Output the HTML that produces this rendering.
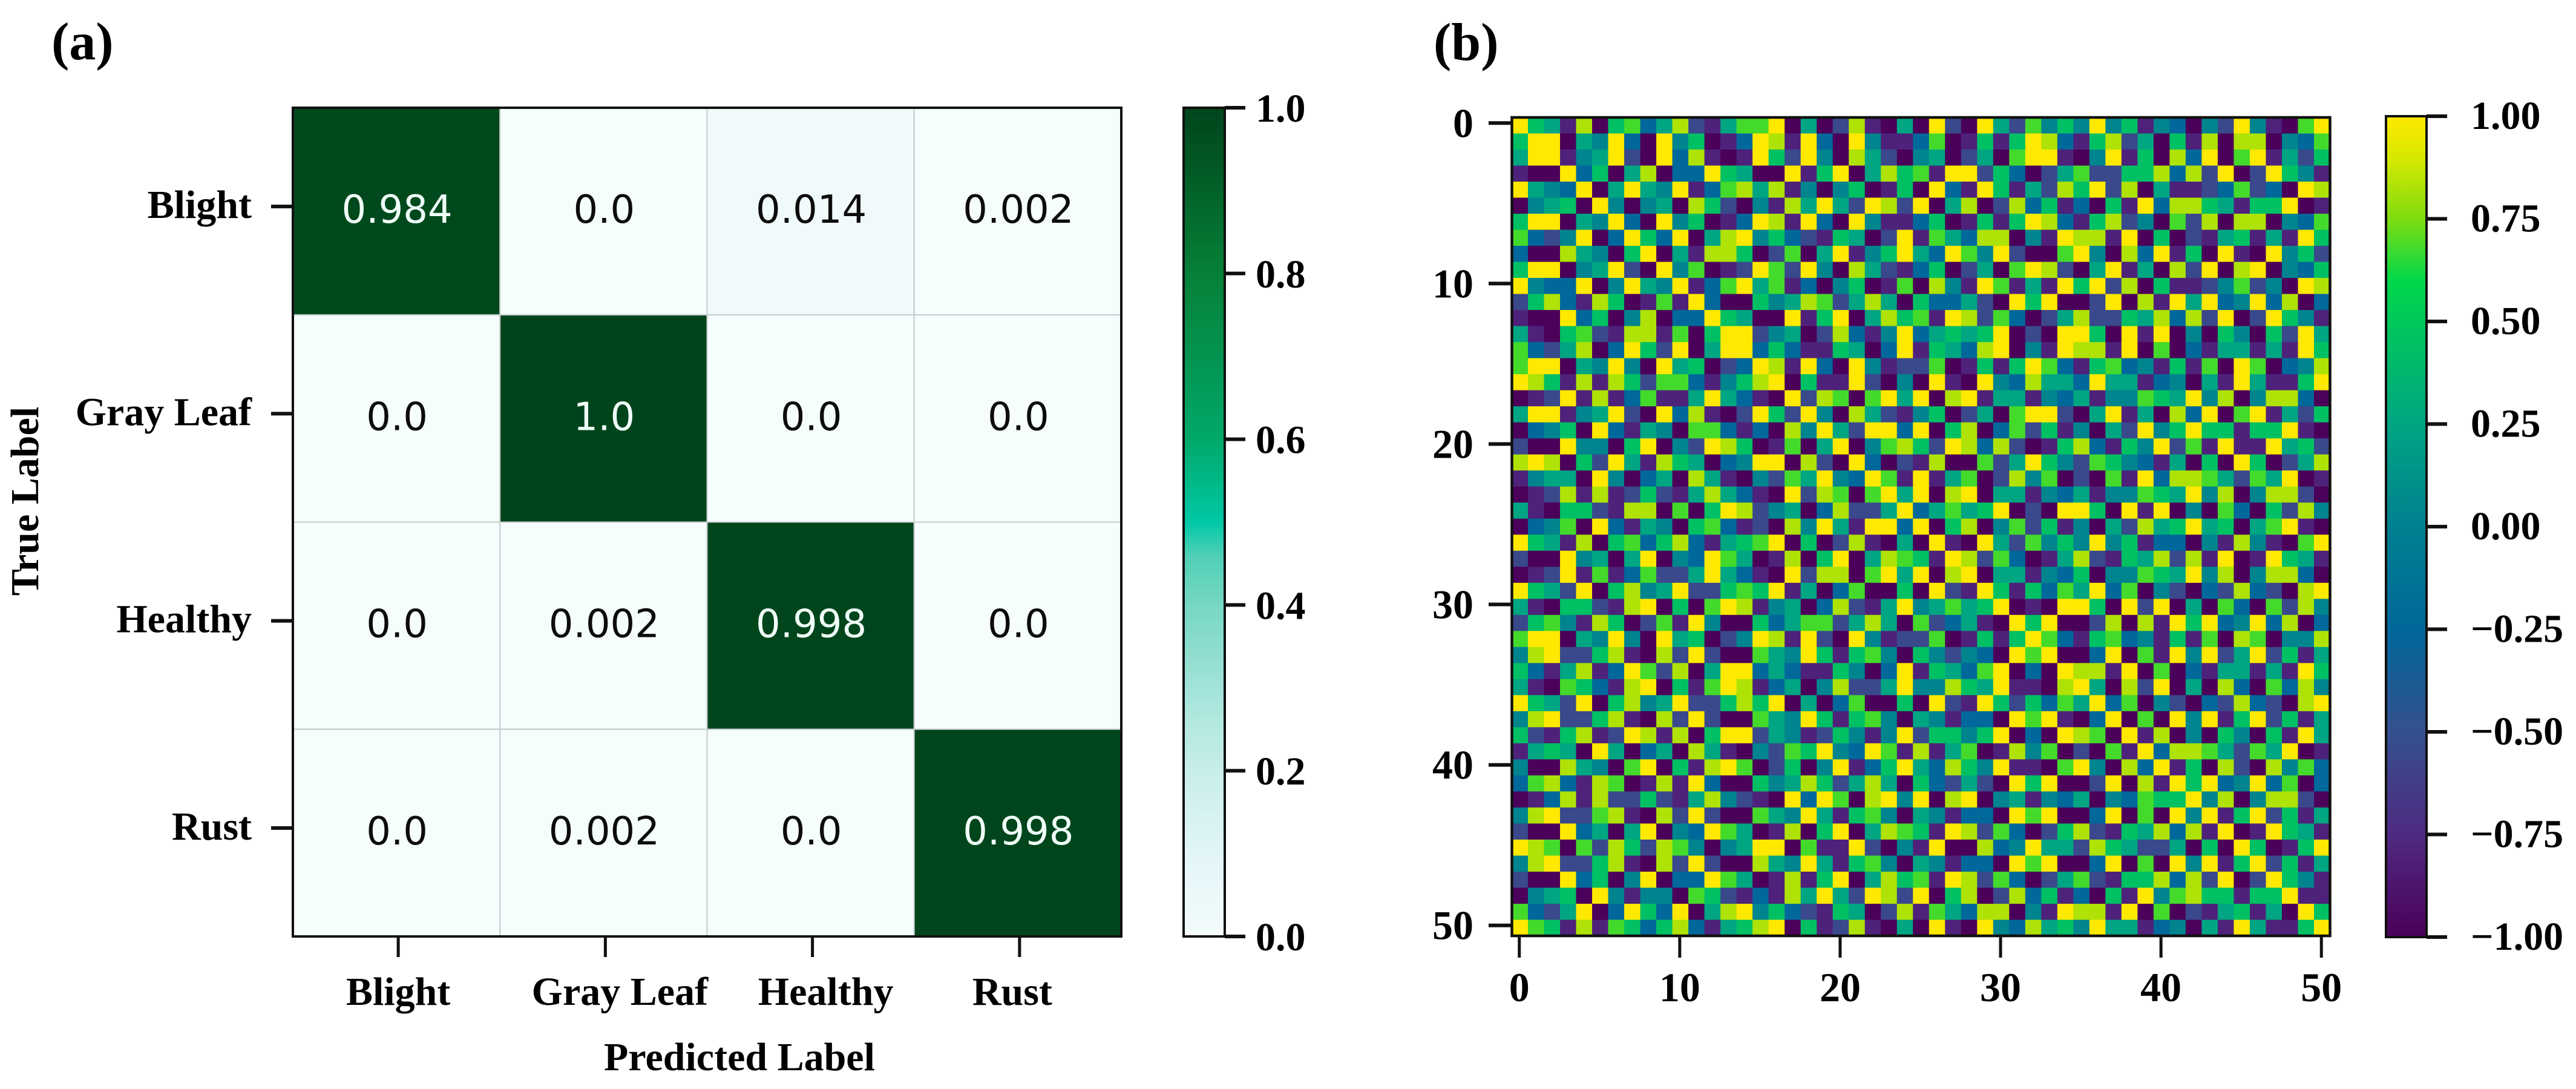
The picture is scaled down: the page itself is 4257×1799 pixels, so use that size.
<!DOCTYPE html>
<html lang="en">
<head>
<meta charset="utf-8">
<title>Confusion matrix and correlation heatmap</title>
<style>
html,body{margin:0;padding:0;background:#fff;}
svg{display:block;}
.serif{font-family:"Liberation Serif",serif;font-weight:bold;fill:#000;}
.sans{font-family:"DejaVu Sans",sans-serif;}
</style>
</head>
<body>
<svg id="figure" xmlns="http://www.w3.org/2000/svg" width="4257" height="1799" viewBox="0 0 4257 1799">
<defs id="defs"></defs>
<rect x="0" y="0" width="4257" height="1799" fill="#fff"/>
<text class="serif" x="85" y="98" font-size="88">(a)</text>
<text class="serif" x="2369" y="99" font-size="88">(b)</text>
<text class="serif" x="1222" y="1768" font-size="66" text-anchor="middle">Predicted Label</text>
<text class="serif" transform="translate(63,828) rotate(-90)" font-size="66" text-anchor="middle">True Label</text>
<g id="panelA"></g>
<g id="panelB"></g>
</svg>
<script>
const classLabels = ["Blight","Gray Leaf","Healthy","Rust"];
const confusionValues = [
[0.984,0.0,0.014,0.002],
[0.0,1.0,0.0,0.0],
[0.0,0.002,0.998,0.0],
[0.0,0.002,0.0,0.998]
];
const confusionPrinted = [
["0.984","0.0","0.014","0.002"],
["0.0","1.0","0.0","0.0"],
["0.0","0.002","0.998","0.0"],
["0.0","0.002","0.0","0.998"]
];
const cbarATicks = [0,0.2,0.4,0.6,0.8,1.0];
const cbarATickLabels = ["0.0","0.2","0.4","0.6","0.8","1.0"];
const heatTicks = [0,10,20,30,40,50];
const heatTickLabels = ["0","10","20","30","40","50"];
const cbarBTicks = [-1,-0.75,-0.5,-0.25,0,0.25,0.5,0.75,1];
const cbarBTickLabels = ["\u22121.00","\u22120.75","\u22120.50","\u22120.25","0.00","0.25","0.50","0.75","1.00"];
const levelValue = [-1,-0.8,-0.55,-0.25,0.03,0.25,0.44,0.68,0.83,1];
const cellLevels = [
[9,6,5,1,8,0,6,7,3,5,8,2,1,5,7,7,9,0,5,0,2,8,1,0,5,0,9,2,0,9,5,2,7,4,6,4,9,4,6,1,4,3,0,4,2,9,4,1,0,7,9],
[6,9,9,0,5,4,9,3,0,9,4,6,0,1,3,9,8,1,9,3,0,9,4,1,1,3,7,0,1,6,1,6,9,8,3,1,6,8,2,5,0,6,1,8,0,8,8,0,4,3,7],
[5,9,9,1,4,5,9,2,0,9,3,8,1,0,1,9,6,2,9,4,0,8,5,2,0,4,5,0,2,5,0,7,9,9,1,0,4,9,1,6,0,8,3,9,0,7,9,1,5,2,6],
[1,0,0,9,3,6,0,5,8,0,3,3,9,6,5,0,0,9,1,6,9,0,5,8,6,7,1,9,9,2,6,3,0,2,5,7,2,2,6,6,8,3,8,2,9,0,2,9,6,4,1],
[9,5,4,3,9,0,5,9,5,4,9,1,3,7,8,5,8,1,4,0,4,6,0,1,6,0,9,3,1,9,6,1,5,2,8,6,9,2,8,0,5,1,1,2,3,7,2,3,0,9,8],
[0,4,5,6,0,9,4,0,4,5,0,8,6,2,0,4,1,8,5,9,5,2,9,8,2,9,0,5,8,0,2,8,3,6,1,3,0,6,1,9,3,8,8,6,5,1,6,6,9,0,1],
[6,9,9,0,5,4,9,3,0,9,4,6,0,1,3,9,8,1,9,3,0,9,4,1,1,3,6,0,1,6,1,6,9,8,3,1,6,8,2,4,0,7,2,8,0,8,8,0,4,3,7],
[7,3,2,4,9,0,3,9,6,3,9,0,5,8,9,4,6,3,2,1,6,5,0,2,9,1,7,5,3,8,8,0,4,1,9,8,8,1,9,0,6,0,2,1,5,6,1,5,1,9,6],
[3,0,0,8,5,4,0,6,9,0,5,1,8,8,6,0,2,7,0,5,9,1,4,6,9,5,3,9,7,4,9,2,0,0,7,9,4,0,8,3,9,1,6,0,9,1,0,9,4,6,2],
[6,9,9,0,4,5,9,2,0,9,4,7,0,1,2,9,7,2,9,4,0,8,5,2,1,3,6,0,2,5,0,7,9,8,2,0,5,9,1,5,0,8,2,9,0,8,9,0,4,3,6],
[9,4,3,3,9,0,4,9,5,4,9,1,3,7,9,5,7,1,3,0,4,6,0,1,7,0,8,4,1,9,7,1,5,1,9,6,9,2,8,0,6,1,1,2,4,7,2,4,0,9,8],
[2,6,8,3,1,8,6,0,1,7,1,9,3,0,0,6,4,5,8,7,2,5,8,5,0,6,3,3,5,2,0,9,6,9,0,0,2,9,0,8,1,9,5,9,3,4,9,3,8,0,3],
[1,0,0,9,3,6,0,4,8,0,3,3,9,6,5,0,0,9,1,6,9,0,5,8,6,7,1,9,8,2,7,3,0,2,5,8,2,2,6,5,8,3,8,2,9,0,2,9,6,4,1],
[5,1,0,6,7,2,1,8,8,1,7,0,6,9,9,2,4,5,0,2,8,3,1,4,9,3,5,6,5,6,9,0,2,0,9,9,6,0,9,1,9,0,4,0,6,4,0,6,2,9,5],
[7,3,2,5,8,0,3,9,6,2,9,0,5,9,9,3,6,3,1,1,6,5,0,3,9,1,6,5,3,8,9,0,4,1,9,8,8,1,9,0,7,0,3,1,5,5,1,5,1,9,6],
[7,9,9,0,5,4,9,4,0,9,5,6,0,2,3,9,8,1,9,3,0,9,4,1,2,2,7,0,1,6,1,6,9,7,3,1,6,7,3,4,1,6,1,7,0,9,7,0,3,4,8],
[9,8,6,1,8,1,8,6,2,7,7,3,1,4,6,8,9,0,6,1,1,9,2,0,4,0,9,1,0,9,4,3,8,5,5,3,9,5,5,1,3,4,0,5,1,9,5,1,1,6,9],
[0,1,2,9,1,8,1,3,7,1,1,5,9,5,3,1,0,9,2,8,7,0,7,9,5,9,0,8,9,1,5,5,1,4,3,5,1,4,4,7,6,5,9,4,8,0,4,8,8,3,0],
[5,9,9,1,4,5,9,2,0,9,3,8,1,0,2,9,6,2,9,4,0,8,5,2,1,4,6,0,2,5,0,7,9,9,2,0,5,9,1,5,0,8,3,9,0,7,9,1,5,2,6],
[0,3,4,6,0,9,3,1,5,4,0,7,7,3,1,3,0,8,4,9,5,2,9,9,3,9,0,6,8,0,3,7,2,6,1,4,0,5,2,9,4,6,9,6,6,1,6,6,9,1,0],
[2,0,0,9,4,4,0,6,9,0,4,2,9,8,6,0,1,7,0,5,9,0,4,7,8,6,2,9,8,3,8,2,0,1,6,8,3,1,6,4,9,2,7,1,9,1,1,9,5,6,2],
[8,9,8,0,6,2,9,5,1,8,6,5,0,3,4,9,9,0,8,2,0,9,3,0,2,1,8,0,0,7,2,5,9,6,4,2,7,6,4,3,1,5,0,6,0,9,6,0,2,5,8],
[1,4,5,5,0,9,4,0,3,5,0,8,5,1,0,4,2,7,5,9,4,3,9,7,1,9,1,5,7,0,2,8,4,7,0,2,0,7,1,9,3,8,8,7,5,2,7,5,9,0,1],
[0,1,2,8,1,8,1,2,6,2,1,5,8,5,3,1,0,9,2,8,7,0,7,9,5,9,0,8,9,0,5,5,1,4,3,5,1,4,4,7,6,5,9,4,8,0,4,8,8,2,0],
[5,1,0,6,6,2,1,8,8,0,7,0,6,9,8,2,4,5,0,3,8,2,2,5,9,3,5,7,5,6,9,0,2,0,9,9,6,0,9,1,9,0,4,0,7,3,0,6,2,8,4],
[0,3,4,7,0,9,3,1,5,4,0,6,7,3,1,2,0,8,4,9,5,1,9,9,3,9,0,6,8,0,4,7,2,6,1,4,0,5,2,8,5,6,9,5,6,0,5,7,9,1,0],
[9,6,5,1,8,0,6,7,3,6,8,3,1,5,6,7,9,0,6,0,2,8,1,0,5,0,9,1,0,9,5,2,7,4,6,4,9,4,6,1,3,3,0,4,1,8,4,1,0,7,9],
[2,0,0,9,4,5,0,5,9,0,4,3,9,7,5,0,1,8,0,6,9,0,5,8,7,6,1,9,8,2,7,3,0,1,5,8,2,1,6,5,8,2,8,1,9,0,1,9,6,5,1],
[0,1,2,9,1,7,1,3,7,2,2,5,9,5,3,1,0,9,2,8,8,0,7,9,5,9,0,8,9,0,5,5,1,4,3,6,0,4,4,7,6,5,9,4,8,0,4,8,8,3,0],
[9,6,5,2,9,0,6,8,4,5,9,2,2,6,7,6,9,1,5,0,3,7,0,0,6,0,9,2,1,9,6,1,6,3,7,5,9,3,7,0,4,2,0,3,2,8,3,2,0,8,9],
[5,1,0,6,6,2,1,8,9,0,6,0,7,9,8,1,4,5,0,3,8,2,1,5,9,4,5,7,5,6,9,0,1,0,9,9,6,0,9,2,9,0,5,0,7,3,0,7,2,8,4],
[2,6,7,4,1,8,6,0,2,7,1,9,4,0,0,6,3,5,7,7,2,5,8,5,0,7,2,3,5,1,0,9,6,9,0,0,2,8,0,8,1,9,6,9,3,4,9,3,8,0,3],
[7,9,9,0,5,4,9,4,0,9,5,6,0,2,4,9,8,1,9,2,0,9,4,1,2,2,7,0,1,6,1,6,9,7,3,1,6,7,3,4,1,6,1,7,0,8,7,0,4,4,8],
[4,8,9,2,2,6,8,1,0,8,2,9,2,0,0,7,5,4,9,6,1,6,7,4,0,6,4,2,4,3,0,9,7,9,0,0,3,9,0,7,1,9,4,9,2,5,9,2,6,1,5],
[6,3,1,5,8,1,3,9,7,2,8,0,5,9,9,3,5,3,1,1,6,4,0,3,9,1,6,5,3,7,9,0,3,0,9,8,8,1,9,0,7,0,3,1,5,5,1,5,1,9,6],
[5,1,0,7,6,3,1,8,9,0,6,1,7,9,8,1,3,5,0,4,8,2,2,5,9,4,4,8,6,5,9,1,1,0,8,9,5,0,8,2,9,0,5,0,8,3,0,7,3,8,4],
[9,6,5,2,9,0,6,8,4,5,9,2,2,6,8,6,9,0,5,0,3,7,0,0,6,0,9,2,1,9,6,2,6,3,7,5,9,3,7,0,4,2,0,3,2,8,3,2,0,8,9],
[4,8,9,2,2,6,8,1,0,8,2,9,2,0,0,7,5,4,9,6,1,6,7,4,0,5,4,1,3,3,0,9,7,9,1,0,3,9,0,7,0,9,4,9,1,6,9,2,6,1,5],
[6,2,1,6,8,1,2,9,8,1,8,0,6,9,9,2,5,4,1,2,6,4,1,4,9,2,6,6,4,6,9,0,3,0,9,8,7,0,9,1,8,0,4,0,6,4,0,6,1,9,5],
[1,5,6,5,0,9,5,0,3,5,0,8,5,1,0,4,2,7,6,9,4,3,9,7,1,8,1,5,7,0,1,8,4,7,0,2,0,7,1,9,3,8,8,7,5,2,7,5,9,0,1],
[4,0,0,8,5,4,0,7,9,0,6,1,8,9,7,0,2,6,0,4,9,1,3,6,9,5,3,8,6,4,9,1,1,0,7,9,4,0,8,3,9,1,6,0,8,2,0,8,4,7,3],
[3,7,8,3,1,8,7,0,1,8,1,9,3,0,0,6,4,5,8,6,2,5,8,5,0,6,3,2,5,2,0,9,6,9,0,0,2,9,0,8,1,9,6,9,3,4,9,3,7,0,3],
[0,1,3,8,1,8,2,2,6,2,1,5,8,4,2,1,0,9,3,9,7,0,8,9,4,9,0,8,9,0,4,5,1,4,3,5,0,4,3,7,6,6,9,4,8,0,4,8,8,2,0],
[4,8,9,2,2,7,8,1,0,8,2,9,2,0,0,7,5,4,9,5,1,6,7,4,0,5,4,1,3,3,0,9,7,9,0,0,3,9,0,7,0,9,4,9,1,6,9,2,6,1,5],
[2,0,0,9,3,5,0,5,9,0,4,3,9,7,5,0,1,8,0,6,9,0,5,8,7,6,1,9,8,2,7,3,0,2,6,8,2,1,6,5,8,3,8,1,9,0,1,9,6,5,1],
[9,8,7,0,7,2,8,6,2,8,7,4,0,4,5,9,9,0,7,1,1,9,2,0,4,1,9,0,0,8,3,4,9,5,5,2,8,6,5,2,2,5,0,6,0,9,6,0,1,6,9],
[4,8,9,2,2,6,8,1,0,8,2,9,2,0,0,8,5,4,9,5,1,6,7,4,0,5,4,1,3,3,0,9,7,9,0,0,3,9,0,7,0,9,4,9,1,6,9,2,6,1,5],
[2,0,0,9,3,6,0,4,9,0,3,3,9,7,5,0,1,8,1,6,9,0,5,8,6,7,1,9,8,2,7,3,0,2,5,7,2,1,6,6,8,3,8,2,9,0,2,9,6,4,1],
[0,4,5,6,0,9,4,1,4,4,0,7,6,2,1,3,1,8,5,9,5,2,9,8,2,9,0,6,8,0,2,8,3,6,1,3,0,6,1,9,4,7,8,6,6,1,6,6,9,1,1],
[7,3,2,5,9,0,3,9,6,3,9,0,5,8,9,4,6,3,2,1,6,5,0,2,8,1,7,5,3,8,8,0,4,1,9,8,8,1,9,0,7,0,2,1,5,6,1,5,0,9,6],
[9,7,6,1,8,1,7,6,3,6,8,3,1,5,6,8,9,0,6,1,2,8,1,0,5,0,9,1,0,9,4,3,8,5,6,4,9,5,5,1,3,4,0,5,1,9,5,1,1,6,9]
];

const NS = "http://www.w3.org/2000/svg";
const panelA = document.getElementById("panelA");
const panelB = document.getElementById("panelB");
const defs = document.getElementById("defs");

function mk(tag, attrs, parent, text) {
  const el = document.createElementNS(NS, tag);
  for (const k in attrs) el.setAttribute(k, attrs[k]);
  if (text !== undefined) el.textContent = text;
  parent.appendChild(el);
  return el;
}
function hex(c) { return [parseInt(c.slice(1,3),16),parseInt(c.slice(3,5),16),parseInt(c.slice(5,7),16)]; }
function ramp(stops, v) {
  if (v <= stops[0][0]) return stops[0][1];
  for (let i = 1; i < stops.length; i++) {
    if (v <= stops[i][0]) {
      const t = (v - stops[i-1][0]) / (stops[i][0] - stops[i-1][0]);
      const a = hex(stops[i-1][1]), b = hex(stops[i][1]);
      return "rgb(" + a.map((x,j) => Math.round(x + (b[j]-x)*t)).join(",") + ")";
    }
  }
  return stops[stops.length-1][1];
}
function gradient(id, stops, lo, hi) {
  const g = mk("linearGradient", {id:id, x1:0, y1:1, x2:0, y2:0}, defs);
  stops.forEach(s => mk("stop", {offset:(s[0]-lo)/(hi-lo), "stop-color":s[1]}, g));
}

/* ---------- panel (a) ---------- */
const greenStops = [[0,"#f6fefd"],[0.014,"#f1fafb"],[0.1,"#e2f5f8"],[0.2,"#c8eeea"],[0.3,"#a2e3d9"],[0.4,"#76d7c2"],[0.46,"#4fd0b6"],[0.5,"#00c8a6"],[0.6,"#00a868"],[0.8,"#068038"],[1,"#00441b"]];
const A = {left:484, top:178, size:1369, tickX:3, tickY:-8};
const aBand = A.size / classLabels.length;
const aX = i => A.left + aBand * i;
const aY = i => A.top + aBand * i;

confusionValues.forEach((row, r) => {
  row.forEach((v, c) => {
    const cell = mk("rect", {x:aX(c), y:aY(r), width:aBand, height:aBand, fill:ramp(greenStops, v), stroke:"#c4cccc", "stroke-width":2}, panelA);
    
    
    const label = mk("text", {x:aX(c)+aBand/2+1, y:aY(r)+aBand/2+19, "font-size":64, "text-anchor":"middle", class:"sans", fill:v > 0.5 ? "#f0fff8" : "#0c0c0c"}, panelA, confusionPrinted[r][c]);
    
    
  });
});
const aFrame = mk("rect", {x:A.left, y:A.top, width:A.size, height:A.size, fill:"none", stroke:"#111", "stroke-width":4}, panelA);



const xLabelOffset = [0,24,22,-12];
classLabels.forEach((name, i) => {
  const tx = aX(i) + aBand/2 + A.tickX;
  const xt = mk("line", {x1:tx, x2:tx, y1:A.top+A.size, y2:A.top+A.size+34, stroke:"#111", "stroke-width":5}, panelA);
  
  
  const xl = mk("text", {x:tx+xLabelOffset[i], y:1660, "font-size":66, "text-anchor":"middle", class:"serif"}, panelA, name);
  
  
  const ty = aY(i) + aBand/2 + A.tickY;
  const yt = mk("line", {x1:A.left-36, x2:A.left, y1:ty, y2:ty, stroke:"#111", "stroke-width":6}, panelA);
  
  
  const yl = mk("text", {x:416, y:ty+19, "font-size":66, "text-anchor":"end", class:"serif"}, panelA, name);
  
  
});

gradient("gradA", greenStops, 0, 1);
const cbA = {left:1956, width:68, top:178, height:1369};
const cbAY = v => cbA.top + cbA.height * (1 - v);
const cbarA = mk("rect", {x:cbA.left, y:cbA.top, width:cbA.width, height:cbA.height, fill:"url(#gradA)", stroke:"#111", "stroke-width":4}, panelA);


cbarATicks.forEach((v, i) => {
  const t = mk("line", {x1:cbA.left+cbA.width, x2:cbA.left+cbA.width+34, y1:cbAY(v), y2:cbAY(v), stroke:"#111", "stroke-width":6}, panelA);
  
  
  const l = mk("text", {x:2075, y:cbAY(v)+23, "font-size":66, class:"serif"}, panelA, cbarATickLabels[i]);
  
  
});

/* ---------- panel (b) ---------- */
const viridisStops = [[-1,"#4b0059"],[-0.75,"#4f2a82"],[-0.5,"#35508f"],[-0.25,"#00689a"],[0,"#008090"],[0.25,"#00a582"],[0.5,"#00c85a"],[0.6,"#00d84a"],[0.75,"#80dc10"],[0.9,"#d8e800"],[1,"#ffe900"]];
const B = {left:2498.5, top:194, size:1352};
const n = cellLevels.length;
const bCell = B.size / n;
const bX = c => B.left + bCell * c;
const bY = r => B.top + bCell * r;
const bAxis = k => bCell * (k + 0.5);

cellLevels.forEach((row, r) => {
  row.forEach((lv, c) => {
    const cell = mk("rect", {x:bX(c), y:bY(r), width:bCell+0.5, height:bCell+0.5, fill:ramp(viridisStops, levelValue[lv])}, panelB);
    
    
  });
});
const bFrame = mk("rect", {x:B.left, y:B.top, width:B.size, height:B.size, fill:"none", stroke:"#111", "stroke-width":4.5}, panelB);



heatTicks.forEach((k, i) => {
  const tx = B.left + bAxis(k) - 1;
  const xt = mk("line", {x1:tx, x2:tx, y1:B.top+B.size, y2:1582, stroke:"#111", "stroke-width":5}, panelB);
  
  
  const xl = mk("text", {x:tx, y:1654, "font-size":68, "text-anchor":"middle", class:"serif"}, panelB, heatTickLabels[i]);
  
  
  const ty = B.top + bAxis(k) - 4;
  const yt = mk("line", {x1:2460, x2:B.left, y1:ty, y2:ty, stroke:"#111", "stroke-width":6}, panelB);
  
  
  const yl = mk("text", {x:2435, y:ty+23, "font-size":68, "text-anchor":"end", class:"serif"}, panelB, heatTickLabels[i]);
  
  
});

gradient("gradB", viridisStops, -1, 1);
const cbB = {left:3943, width:67, top:192, height:1356};
const cbBY = v => cbB.top + cbB.height * (1 - v) / 2;
const cbarB = mk("rect", {x:cbB.left, y:cbB.top, width:cbB.width, height:cbB.height, fill:"url(#gradB)", stroke:"#111", "stroke-width":4}, panelB);


cbarBTicks.forEach((v, i) => {
  const t = mk("line", {x1:cbB.left+cbB.width, x2:cbB.left+cbB.width+34, y1:cbBY(v), y2:cbBY(v), stroke:"#111", "stroke-width":6}, panelB);
  
  
  const l = mk("text", {x:4083, y:cbBY(v)+21, "font-size":66, class:"serif"}, panelB, cbarBTickLabels[i]);
  
  
});
</script>
</body>
</html>
